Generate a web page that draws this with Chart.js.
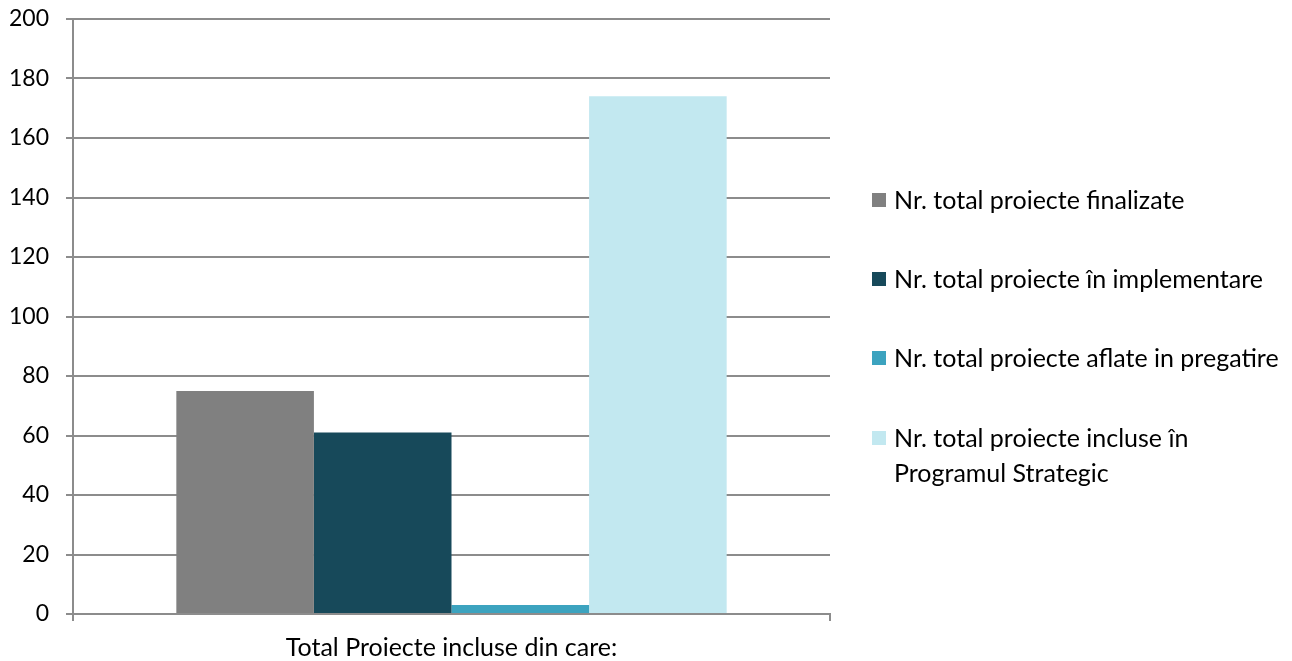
<!DOCTYPE html>
<html lang="ro">
<head>
<meta charset="UTF-8">
<title>Proiecte</title>
<script src="https://cdn.jsdelivr.net/npm/chart.js"></script>
<style>
  * { margin: 0; padding: 0; box-sizing: border-box }
  body { width: 1292px; height: 661px; background: #fff; position: relative; overflow: hidden; font-family: Lato, sans-serif; color: #000 }
  #wrap { position: absolute; left: 0; top: 0; width: 1292px; height: 661px }
  #legenda { position: absolute; left: 872px; top: 0; width: 420px; font-size: 25px; line-height: 35px }
  .item { position: absolute; left: 0; display: flex; align-items: flex-start; white-space: nowrap }
  .item span.box { display: inline-block; width: 14px; height: 14px; margin-top: 11px; margin-right: 8px; flex: none }
</style>
</head>
<body>
<div id="wrap"><canvas id="grafic" width="1292" height="661"></canvas></div>
<div id="legenda"></div>
<script>
  const categorii = ['Total Proiecte incluse din care:'];
  const serii = ['Nr. total proiecte finalizate', 'Nr. total proiecte în implementare', 'Nr. total proiecte aflate in pregatire', 'Nr. total proiecte incluse în\nProgramul Strategic'];
  const valori = [75, 61, 3, 174];
  const culori = ['#808080', '#17495a', '#3ca3bf', '#c2e8f0'];
  const yTicks = [0, 20, 40, 60, 80, 100, 120, 140, 160, 180, 200];

  // legenda in html, pozitii aproximate dupa referinta
  const legTop = [182, 261, 340, 420];
  const leg = document.getElementById('legenda');
  serii.forEach((s, i) => {
    const d = document.createElement('div');
    d.className = 'item';
    d.style.top = legTop[i] + 'px';
    d.innerHTML = '<span class="box" style="background:' + culori[i] + '"></span><span>' + s.replace('\n', '<br>') + '</span>';
    leg.appendChild(d);
  });

  const gri = '#8c8c8c';
  new Chart(document.getElementById('grafic'), {
    type: 'bar',
    data: {
      labels: categorii,
      datasets: serii.map((s, i) => ({
        label: s,
        data: [valori[i]],
        backgroundColor: culori[i],
        borderWidth: 0,
        barPercentage: 1,
        categoryPercentage: 0.727
      }))
    },
    options: {
      responsive: false,
      animation: false,
      layout: { padding: { left: 0, right: 462, top: 19, bottom: 0 } },
      plugins: { legend: { display: false }, tooltip: { enabled: false } },
      scales: {
        x: {
          grid: { display: true, drawOnChartArea: false, color: gri, lineWidth: 2, tickLength: 7 },
          border: { color: gri, width: 2 },
          ticks: { color: '#000', font: { family: 'Lato', size: 25 }, padding: 12 },
          afterFit: a => { a.height = 47; a.paddingLeft = 0; a.paddingRight = 0 }
        },
        y: {
          min: 0, max: 200,
          afterBuildTicks: a => { a.ticks = yTicks.map(v => ({ value: v })) },
          grid: { color: gri, lineWidth: 2, tickLength: 7 },
          border: { color: gri, width: 2 },
          ticks: { color: '#000', font: { family: 'Lato', size: 23 }, padding: 17 },
          afterFit: a => { a.width = 73; a.paddingTop = 0; a.paddingBottom = 0 }
        }
      }
    }
  });
</script>
</body>
</html>
